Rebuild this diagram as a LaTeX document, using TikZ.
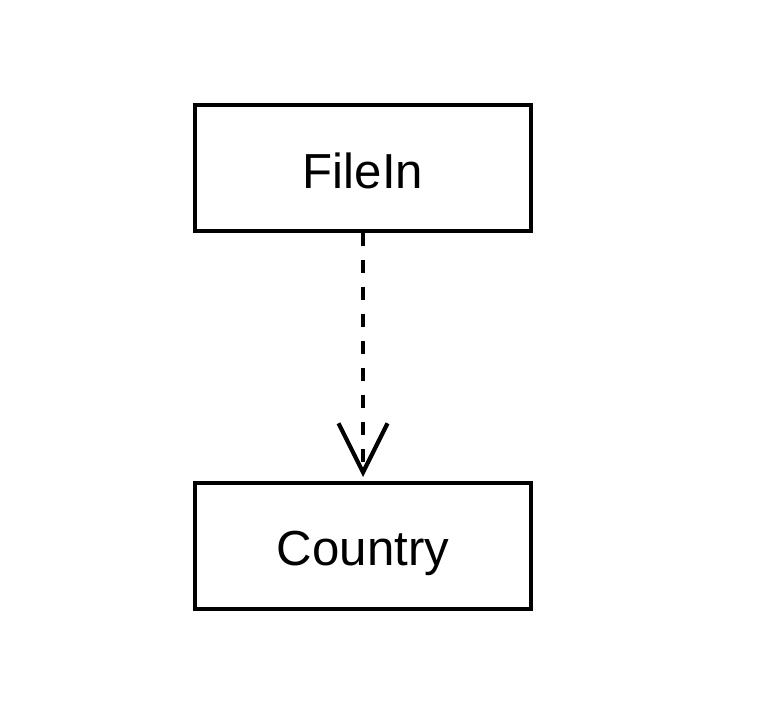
\documentclass[tikz,border=0pt]{standalone}
\usepackage{fontspec}
\setmainfont{Liberation Sans}
\usetikzlibrary{positioning,arrows.meta}

\begin{document}
\begin{tikzpicture}[x=0.02cm, y=0.02cm, node distance=7.56cm, on grid,
    line width=2.2pt, font=\fontsize{28}{34}\selectfont,
    classbox/.style={draw, minimum width=6.72cm, minimum height=2.52cm,
      inner sep=0pt, text depth=0pt}]
  \useasboundingbox (0,0) rectangle (758,726);
  \node[classbox] (filein) at (363,558) {\raisebox{-3pt}{FileIn}};%
  \node[classbox] (country) [below=of filein] {\raisebox{-3pt}{Country}};%
  \draw[line width=2.4pt, dash pattern=on 0.26cm off 0.28cm,
    -{Straight Barb[length=0.98cm, width=0.98cm]}, shorten >=0.08cm]
    (filein) -- (country);%
\end{tikzpicture}
\end{document}
